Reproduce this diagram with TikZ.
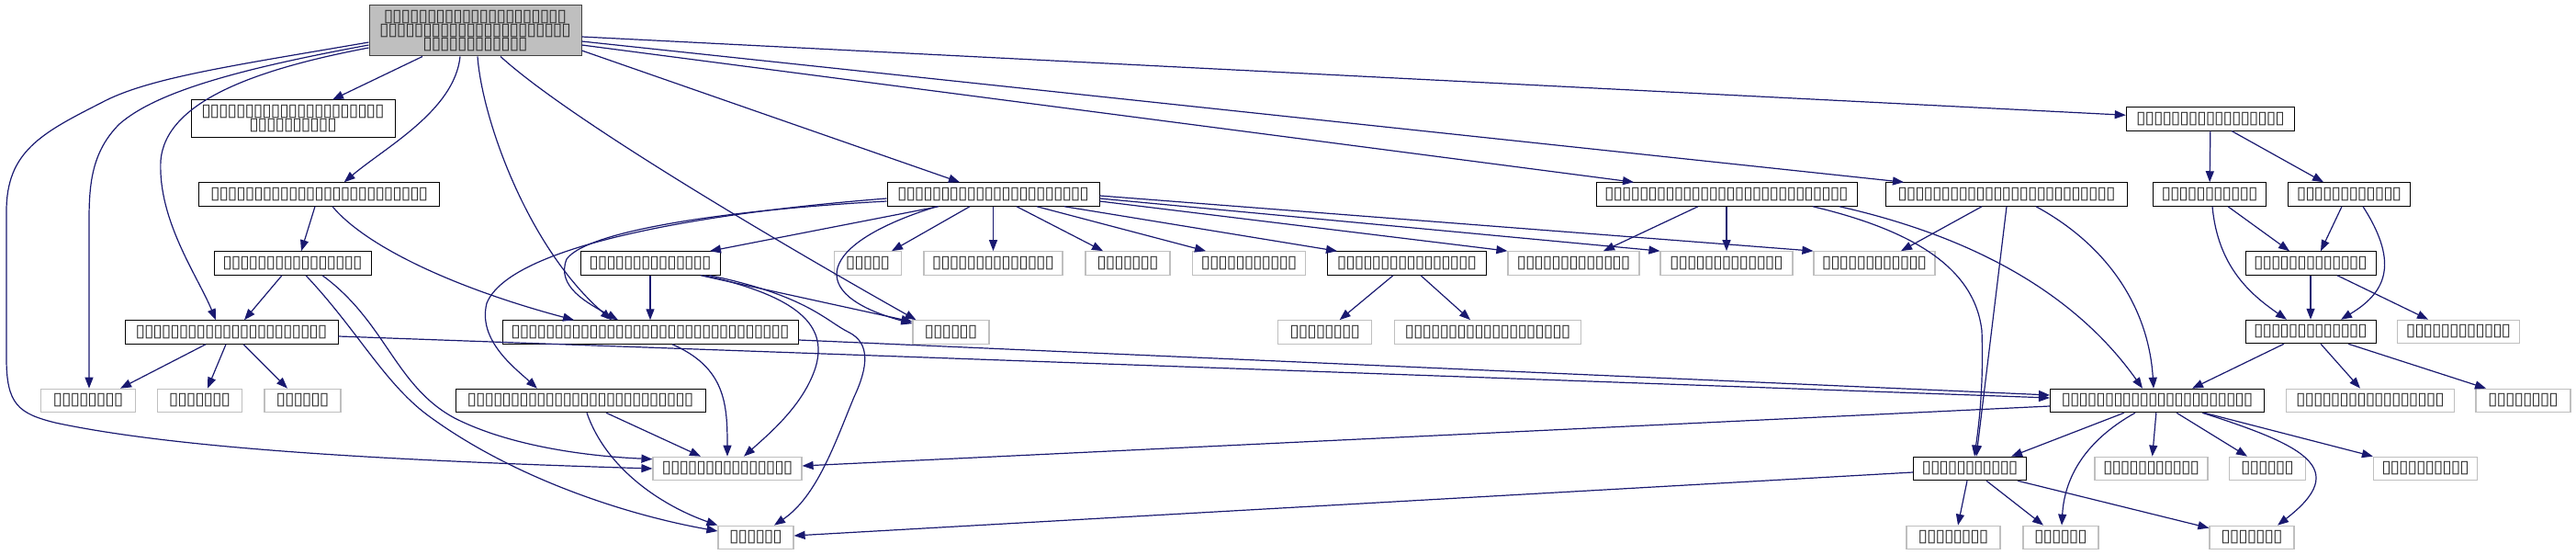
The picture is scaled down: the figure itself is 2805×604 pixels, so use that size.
\documentclass[tikz,border=0pt]{standalone}
\usepackage{fontspec}
\setmainfont{DejaVu Sans}
\usetikzlibrary{arrows.meta}
\definecolor{edgeblue}{HTML}{191970}
\definecolor{leafgray}{HTML}{BFBFBF}
\definecolor{rootgray}{HTML}{BFBFBF}
\definecolor{rootline}{HTML}{404040}
\definecolor{tofugray}{HTML}{303030}
\newcommand\tofufont{\fontsize{19}{15}\selectfont\lineskiplimit=-20pt\relax}
\newcommand\tofu[1]{\foreach\k in {1,...,#1}{\makebox[9.45pt]{▯}}}

\begin{document}
\begin{tikzpicture}[x=1pt, y=-1pt, >={Triangle[length=12pt, width=9pt]},
  font=\tofufont, text=tofugray,
  inc/.style={draw=black, fill=white, line width=1pt, inner sep=0pt, minimum height=25.5pt},
  leaf/.style={draw=leafgray, fill=white, line width=1.2pt, inner sep=0pt, minimum height=25.5pt},
  top/.style={draw=rootline, fill=rootgray, line width=1pt, inner sep=0pt, align=center}]

\useasboundingbox (0,0) rectangle (2805,604);

\node[top, minimum width=231pt, minimum height=55pt] (root) at (517.5,33.5) {\tofu{21}\\\tofu{22}\\\tofu{12}};

\node[inc, minimum width=222pt, minimum height=41pt, align=center] (A) at (319,129.5) {\tofu{21}\\\tofu{10}};
\node[inc, minimum width=183.5pt] (P) at (2407,129.3) {\tofu{17}};

\node[inc, minimum width=262.5pt] (B) at (347.7,211.5) {\tofu{25}};
\node[inc, minimum width=231pt] (J) at (1081.5,211.5) {\tofu{22}};
\node[inc, minimum width=284pt] (Q-1) at (1880,211.5) {\tofu{28}};
\node[inc, minimum width=263pt] (Q-2) at (2185,211.5) {\tofu{25}};
\node[inc, minimum width=123pt] (R-1) at (2406,211.5) {\tofu{11}};
\node[inc, minimum width=132.5pt] (R-2) at (2558,211.5) {\tofu{12}};

\node[inc, minimum width=171pt] (C) at (318.5,286.5) {\tofu{16}};
\node[inc, minimum width=152pt] (Cx) at (708,286.5) {\tofu{14}};
\node[leaf, minimum width=73pt] (K-1) at (945,286.5) {\tofu{5}};
\node[leaf, minimum width=151pt] (K-2) at (1081.5,286.5) {\tofu{14}};
\node[leaf, minimum width=92pt] (K-3) at (1228,286.5) {\tofu{7}};
\node[leaf, minimum width=123pt] (K-4) at (1360,286.5) {\tofu{11}};
\node[inc, minimum width=172.5pt] (L) at (1532,286.5) {\tofu{16}};
\node[leaf, minimum width=143pt] (K-5) at (1713.5,286.5) {\tofu{13}};
\node[leaf, minimum width=144pt] (S-2) at (1880,286.5) {\tofu{13}};
\node[leaf, minimum width=132pt] (S-3) at (2041,286.5) {\tofu{12}};
\node[inc, minimum width=142pt] (T) at (2516,286.5) {\tofu{13}};

\node[inc, minimum width=232pt] (D) at (252,361.5) {\tofu{22}};
\node[inc, minimum width=322pt] (E) at (708,361.5) {\tofu{32}};
\node[leaf, minimum width=83pt] (M) at (1035.5,361.5) {\tofu{6}};
\node[leaf, minimum width=102pt] (N-1) at (1442.7,361.5) {\tofu{8}};
\node[leaf, minimum width=202.5pt] (N-2) at (1620,361.5) {\tofu{19}};
\node[inc, minimum width=142pt] (U) at (2516,361) {\tofu{13}};
\node[leaf, minimum width=133pt] (V) at (2677,361) {\tofu{12}};

\node[leaf, minimum width=102.5pt] (G-1) at (96,436) {\tofu{8}};
\node[leaf, minimum width=92pt] (G-2) at (217.5,436) {\tofu{7}};
\node[leaf, minimum width=83pt] (G-3) at (329.5,436) {\tofu{6}};
\node[inc, minimum width=272pt] (F) at (632,436) {\tofu{26}};
\node[inc, minimum width=233pt] (W) at (2349,436) {\tofu{22}};
\node[leaf, minimum width=183pt] (X-1) at (2581,436) {\tofu{17}};
\node[leaf, minimum width=103pt] (X-2) at (2747.5,436) {\tofu{8}};

\node[leaf, minimum width=162pt] (H) at (792,510) {\tofu{15}};
\node[inc, minimum width=123pt] (Y) at (2145,510) {\tofu{11}};
\node[leaf, minimum width=123pt] (Z-1) at (2342.5,510) {\tofu{11}};
\node[leaf, minimum width=83pt] (Z-2) at (2469,510) {\tofu{6}};
\node[leaf, minimum width=113pt] (Z-3) at (2641,510) {\tofu{10}};

\node[leaf, minimum width=82pt] (I) at (823,585) {\tofu{6}};
\node[leaf, minimum width=102pt] (B-1) at (2127,585) {\tofu{8}};
\node[leaf, minimum width=82pt] (B-2) at (2244,585) {\tofu{6}};
\node[leaf, minimum width=92pt] (B-3) at (2452,585) {\tofu{7}};

\begin{scope}[->, draw=edgeblue, line width=1.2pt]
\draw ([xshift=-57.5pt]root.south) -- ([xshift=43pt]A.north);
\draw ([xshift=-16.5pt]root.south) .. controls (495,120) and (420,160) .. ([xshift=27pt]B.north);
\draw ([xshift=2.5pt]root.south) .. controls (525,130) and (575,270) .. ([xshift=-42pt]E.north);
\draw ([xshift=27.5pt]root.south) .. controls (620,130) and (850,265) .. ([xshift=-38pt]M.north);
\draw ([yshift=-21.5pt]root.east) -- ([xshift=-36.5pt]J.north);
\draw ([yshift=-6.5pt]root.east) -- ([yshift=4pt]P.west);
\draw ([yshift=-11.5pt]root.east) -- ([xshift=-112pt]Q-2.north);
\draw ([yshift=-15.5pt]root.east) -- ([xshift=-101pt]Q-1.north);
\draw ([yshift=-12.5pt]root.west) .. controls (250,72) and (160,85) .. (110,112) .. controls (45,145) and (7,165) .. (7,230) -- (7,390) .. controls (7,440) and (20,450) .. (60,460) .. controls (200,490) and (450,502) .. (H.west);
\draw ([yshift=-15.5pt]root.west) .. controls (260,75) and (170,100) .. (130,135) .. controls (100,165) and (97,200) .. (97,240) -- ([xshift=1pt]G-1.north);
\draw ([yshift=-18.5pt]root.west) .. controls (280,75) and (180,110) .. (175,175) .. controls (172,240) and (215,300) .. ([xshift=-17pt]D.north);

\draw ([xshift=-4.7pt]B.south) -- ([xshift=9.5pt]C.north);
\draw ([xshift=14.3pt]B.south) .. controls (400,270) and (500,315) .. ([xshift=-83pt]E.north);

\draw ([xshift=-11.5pt]C.south) -- ([xshift=14pt]D.north);
\draw ([xshift=32.5pt]C.south) .. controls (420,350) and (430,420) .. (495,455) .. controls (560,488) and (650,497) .. ([yshift=-3pt]H.north west);
\draw ([xshift=14.5pt]C.south) .. controls (390,360) and (420,420) .. (470,455) .. controls (560,520) and (680,560) .. ([yshift=7pt]I.west);

\draw ([xshift=-28pt]D.south) -- ([xshift=35pt]G-1.north);
\draw ([xshift=-6pt]D.south) -- ([xshift=8.5pt]G-2.north);
\draw ([xshift=13pt]D.south) -- ([xshift=-16.5pt]G-3.north);
\draw ([yshift=-4.5pt]D.east) -- ([yshift=3pt]W.west);

\draw ([xshift=24pt]E.south) .. controls (790,400) and (792,440) .. (H.north);
\draw ([yshift=-8.5pt]E.east) -- ([yshift=6pt]W.west);

\draw ([xshift=28pt]F.south) -- ([xshift=-29pt]H.north);
\draw ([xshift=7pt]F.south) .. controls (660,510) and (720,550) .. (I.north west);

\draw (Cx) -- (E);
\draw ([xshift=55pt]Cx.south) -- ([yshift=-2pt]M.north west);
\draw ([xshift=59pt]Cx.south) .. controls (880,325) and (900,360) .. (888,400) .. controls (875,440) and (840,470) .. ([xshift=18pt]H.north);
\draw ([xshift=65pt]Cx.south) .. controls (880,322) and (900,350) .. (925,362) .. controls (948,374) and (945,400) .. (930,432) .. controls (910,480) and (890,540) .. ([xshift=20pt]I.north);

\draw ([xshift=-59.5pt]J.south) -- ([xshift=65pt]Cx.north);
\draw ([yshift=-7.5pt]J.west) .. controls (800,228) and (640,250) .. (617,282) .. controls (605,312) and (640,330) .. ([xshift=-35pt]E.north);
\draw ([yshift=-4.5pt]J.west) .. controls (760,232) and (555,268) .. (530,330) .. controls (520,370) and (560,400) .. ([xshift=-47pt]F.north);
\draw ([xshift=-61.5pt]J.south) .. controls (890,265) and (875,320) .. ([yshift=-4pt]M.north west);
\draw ([xshift=-25.5pt]J.south) -- ([xshift=26pt]K-1.north);
\draw (J) -- (K-2);
\draw ([xshift=25.5pt]J.south) -- ([xshift=-27pt]K-3.north);
\draw ([xshift=47.5pt]J.south) -- ([xshift=-47pt]K-4.north);
\draw ([xshift=77.5pt]J.south) -- ([xshift=-76pt]L.north);
\draw ([yshift=-7.5pt]J.east) -- (K-5.north west);
\draw ([yshift=-4.5pt]J.east) -- (S-2.north west);
\draw ([yshift=-1.5pt]J.east) -- (S-3.north west);

\draw ([xshift=-15pt]L.south) -- ([xshift=16pt]N-1.north);
\draw ([xshift=15pt]L.south) -- ([xshift=-19pt]N-2.north);

\draw (P) -- (R-1);
\draw ([xshift=23pt]P.south) -- ([xshift=-28pt]R-2.north);

\draw ([xshift=-31pt]Q-1.south) -- ([xshift=32.5pt]K-5.north);
\draw (Q-1) -- (S-2);
\draw ([xshift=94pt]Q-1.south) .. controls (2080,250) and (2150,290) .. (2158,360) .. controls (2160,420) and (2155,460) .. ([xshift=5pt]Y.north);
\draw ([xshift=123pt]Q-1.south) .. controls (2150,258) and (2260,320) .. ([xshift=-16pt]W.north);

\draw ([xshift=-27pt]Q-2.south) -- ([xshift=29pt]S-3.north);
\draw (Q-2.south) -- ([xshift=7pt]Y.north);
\draw ([xshift=32pt]Q-2.south) .. controls (2300,270) and (2340,340) .. ([xshift=-4pt]W.north);

\draw ([xshift=20pt]R-1.south) -- ([xshift=-23pt]T.north);
\draw ([xshift=3pt]R-1.south) .. controls (2415,290) and (2450,320) .. ([xshift=-26pt]U.north);
\draw ([xshift=-8pt]R-2.south) -- ([xshift=11pt]T.north);
\draw ([xshift=15pt]R-2.south) .. controls (2615,290) and (2595,320) .. ([xshift=33pt]U.north);

\draw (T) -- (U);
\draw ([xshift=29pt]T.south) -- ([xshift=-33pt]V.north);

\draw ([xshift=-29pt]U.south) -- ([xshift=38pt]W.north);
\draw ([xshift=11pt]U.south) -- ([xshift=-11pt]X-1.north);
\draw ([xshift=41pt]U.south) -- ([xshift=-40.5pt]X-2.north);

\draw ([xshift=-36pt]W.south) -- ([xshift=45pt]Y.north);
\draw ([xshift=-24pt]W.south) .. controls (2270,480) and (2248,520) .. ([xshift=1pt]B-2.north);
\draw (W) -- (Z-1);
\draw ([xshift=21pt]W.south) -- ([xshift=-22pt]Z-2.north);
\draw ([xshift=49pt]W.south) .. controls (2510,485) and (2560,510) .. ([xshift=28pt]B-3.north);
\draw ([xshift=51pt]W.south) -- (Z-3.north west);
\draw ([yshift=-6pt]W.west) -- ([yshift=3pt]H.east);

\draw ([xshift=-3pt]Y.south) -- ([xshift=5pt]B-1.north);
\draw ([xshift=18pt]Y.south) -- ([xshift=-19pt]B-2.north);
\draw ([xshift=52pt]Y.south) -- ([yshift=-3pt]B-3.north west);
\draw ([yshift=-4pt]Y.west) -- ([yshift=2pt]I.east);
\end{scope}

\end{tikzpicture}
\end{document}
